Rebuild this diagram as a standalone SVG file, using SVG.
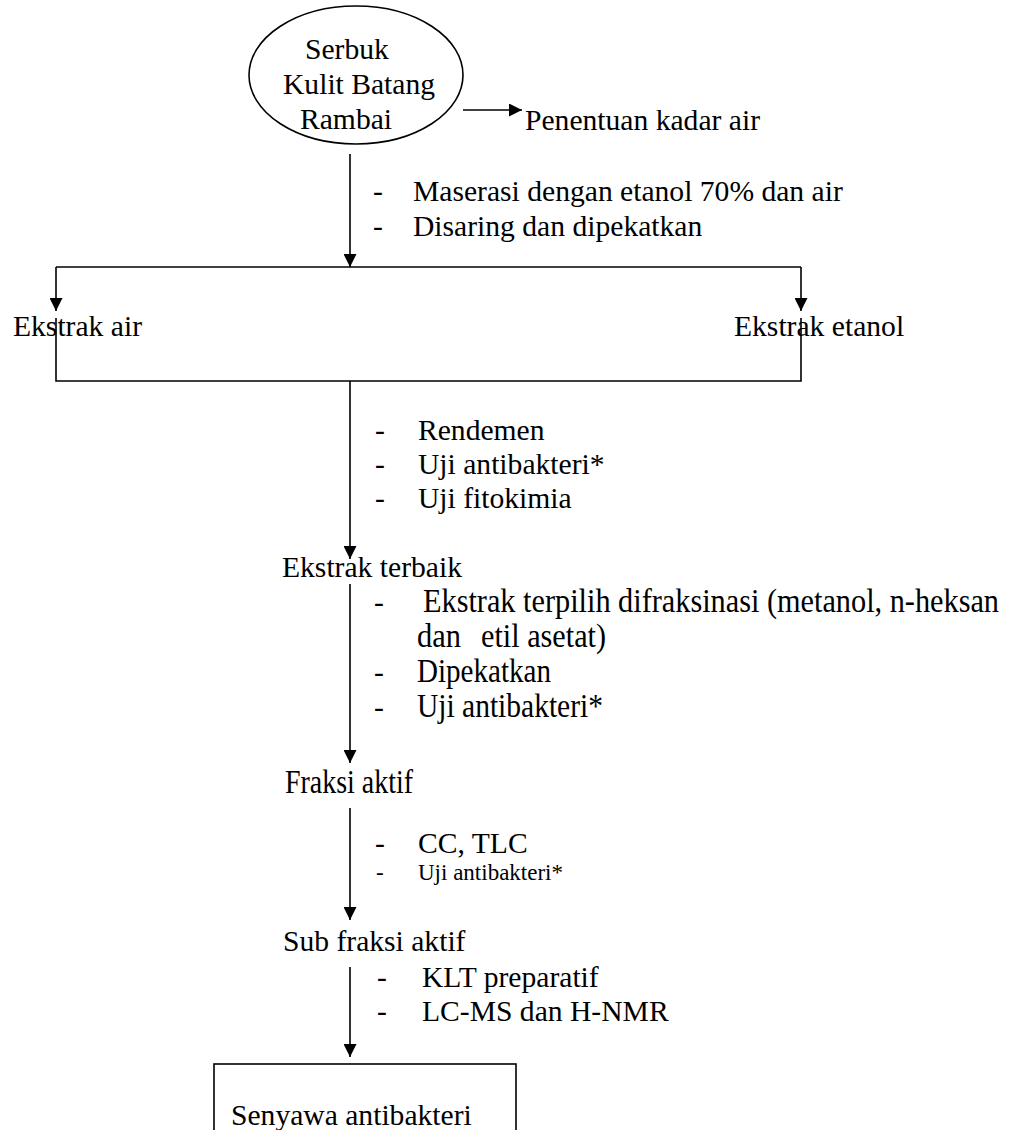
<svg xmlns="http://www.w3.org/2000/svg" width="1010" height="1130" viewBox="0 0 1010 1130">
<defs>
<marker id="ah" viewBox="0 0 13 13" refX="13" refY="6.5" markerWidth="13" markerHeight="13" markerUnits="userSpaceOnUse" orient="auto">
<path d="M0,0 L13,6.5 L0,13 z" fill="#000"/>
</marker>
<style>
text{font-family:"Liberation Serif","Times New Roman",serif;font-size:29.6px;fill:#000}
.c{font-size:33px}
.s{font-size:23px}
line,polyline{stroke:#000;stroke-width:1.6;fill:none}
.a{marker-end:url(#ah)}
</style>
</defs>
<rect width="1010" height="1130" fill="#fff"/>
<g id="connectors">
<line class="a" x1="463" y1="110" x2="522" y2="110"/>
<line class="a" x1="350" y1="154" x2="350" y2="267"/>
<polyline points="56,267 801,267"/>
<line class="a" x1="56" y1="267" x2="56" y2="311"/>
<line class="a" x1="801" y1="267" x2="801" y2="311"/>
<polyline points="56,318 56,381 801,381 801,318"/>
<line class="a" x1="350" y1="381" x2="350" y2="559"/>
<line class="a" x1="350" y1="584" x2="350" y2="763"/>
<line class="a" x1="350" y1="808" x2="350" y2="920"/>
<line class="a" x1="350" y1="967" x2="350" y2="1057"/>
</g>
<g id="n-serbuk">
<ellipse cx="356" cy="75" rx="107" ry="69" fill="none" stroke="#000" stroke-width="1.6"/>
<text x="305" y="59">Serbuk</text>
<text x="283" y="94">Kulit Batang</text>
<text x="300" y="129">Rambai</text>
</g>
<g id="n-kadar"><text x="525" y="130">Penentuan kadar air</text></g>
<g id="l-maserasi">
<text x="373" y="201">-</text><text x="413" y="201">Maserasi dengan etanol 70% dan air</text>
<text x="373" y="236">-</text><text x="413" y="236">Disaring dan dipekatkan</text>
</g>
<g id="n-air"><text x="13" y="336">Ekstrak air</text></g>
<g id="n-etanol"><text x="734" y="336">Ekstrak etanol</text></g>
<g id="l-rendemen">
<text x="375" y="440">-</text><text x="418" y="440">Rendemen</text>
<text x="375" y="474">-</text><text x="418" y="474">Uji antibakteri*</text>
<text x="375" y="508">-</text><text x="418" y="508">Uji fitokimia</text>
</g>
<g id="n-terbaik"><text x="282" y="577">Ekstrak terbaik</text></g>
<g id="l-fraksinasi">
<text x="374" y="612">-</text><text class="c" x="423" y="612" textLength="576" lengthAdjust="spacingAndGlyphs">Ekstrak terpilih difraksinasi (metanol, n-heksan</text>
<text class="c" x="417" y="647" textLength="44" lengthAdjust="spacingAndGlyphs">dan</text><text class="c" x="481" y="647" textLength="125" lengthAdjust="spacingAndGlyphs">etil asetat)</text>
<text x="374" y="682">-</text><text class="c" x="417" y="682" textLength="134" lengthAdjust="spacingAndGlyphs">Dipekatkan</text>
<text x="374" y="717">-</text><text class="c" x="417" y="717" textLength="186" lengthAdjust="spacingAndGlyphs">Uji antibakteri*</text>
</g>
<g id="n-fraksi"><text class="c" x="285" y="793" textLength="128" lengthAdjust="spacingAndGlyphs">Fraksi aktif</text></g>
<g id="l-cc">
<text x="375" y="853">-</text><text x="418" y="853">CC, TLC</text>
<text class="s" x="376" y="880">-</text><text class="s" x="418" y="880">Uji antibakteri*</text>
</g>
<g id="n-sub"><text x="283" y="951">Sub fraksi aktif</text></g>
<g id="l-klt">
<text x="377" y="987">-</text><text x="422" y="987">KLT preparatif</text>
<text x="377" y="1021">-</text><text x="422" y="1021">LC-MS dan H-NMR</text>
</g>
<g id="n-senyawa">
<rect x="214" y="1064" width="302" height="80" fill="none" stroke="#000" stroke-width="1.6"/>
<text x="231" y="1125">Senyawa antibakteri</text>
</g>
</svg>
